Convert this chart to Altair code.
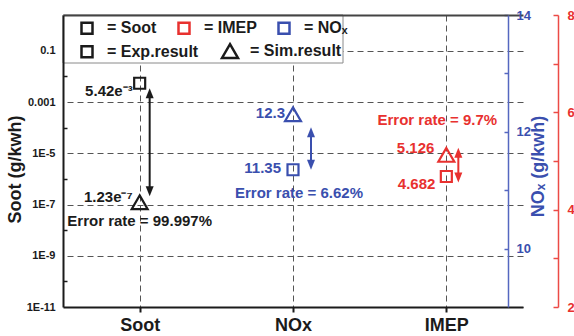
import altair as alt
import numpy as np
import pandas as pd

# ---- data -------------------------------------------------------------
categories = ["Soot", "NOx", "IMEP"]
exp_results = [5.42e-3, 11.35, 4.682]
sim_results = [1.23e-7, 12.3, 5.126]
error_rates = ["99.997%", "6.62%", "9.7%"]

legend_items = ["Soot", "IMEP", "NOx"]
result_kinds = ["Exp.result", "Sim.result"]

soot_major = [1e-1, 1e-3, 1e-5, 1e-7, 1e-9, 1e-11]
soot_minor = [1e-2, 1e-4, 1e-6, 1e-8, 1e-10]
nox_major = [10, 12, 14]
nox_minor = [11, 13]
imep_major = [2, 4, 6, 8]
imep_minor = [3, 5, 7]

soot_domain = [1e-11, 2.5]
nox_domain = [9, 14]
imep_domain = [2, 8]

# ---- style ------------------------------------------------------------
FONT = "Liberation Sans"
BLACK = "#1b1b1b"
RED = "#e8312f"
BLUE = "#3a4fae"
BLUE_AXIS = "#5567c0"
RED_AXIS = "#ec4a46"
GRID = "#555555"
item_colors = [BLACK, RED, BLUE]
TRIANGLE = "M0,-1.25L1.45,1.25L-1.45,1.25Z"
HEAD_UP = "M0,-1L0.8,1L-0.8,1Z"
HEAD_DOWN = "M0,1L0.8,-1L-0.8,-1Z"

W, H = 460, 292

SUP = str.maketrans("-0123456789", "⁻⁰¹²³⁴⁵⁶⁷⁸⁹")


def sci_label(v):
    e = int(np.floor(np.log10(v)))
    return f"{v / 10 ** e:.2f}e" + str(e).translate(SUP)


def plain_label(v):
    return str(v)


x_scale = alt.Scale(type="point", domain=categories, padding=0.5)


def xenc(axis=None):
    return alt.X("item:N", scale=x_scale, axis=axis)


color_enc = alt.Color(
    "item:N",
    scale=alt.Scale(domain=legend_items, range=item_colors),
    legend=alt.Legend(
        orient="none", legendX=16, legendY=5, direction="horizontal", title=None,
        symbolType="square", symbolSize=121, symbolStrokeWidth=2.5,
        labelFont=FONT, labelFontSize=16, labelFontWeight="bold", labelColor=BLACK,
        labelOffset=12, columnPadding=16, padding=0,
        labelExpr="datum.label == 'NOx' ? '= NOₓ' : '= ' + datum.label",
    ),
)
shape_enc = alt.Shape(
    "kind:N",
    scale=alt.Scale(domain=result_kinds, range=["square", TRIANGLE]),
    legend=alt.Legend(
        orient="none", legendX=16, legendY=28, direction="horizontal", title=None,
        symbolSize=121, symbolStrokeWidth=2.5, symbolStrokeColor=BLACK,
        symbolFillColor="transparent",
        labelFont=FONT, labelFontSize=16, labelFontWeight="bold", labelColor=BLACK,
        labelOffset=12, columnPadding=18, padding=0,
        labelExpr="'= ' + datum.label",
    ),
)

x_bottom = alt.Axis(
    orient="bottom", title=None, grid=True, gridDash=[6, 4], gridColor=GRID, gridWidth=1,
    domainColor=BLACK, domainWidth=2, tickColor=BLACK, tickWidth=2, tickSize=5,
    labelFont=FONT, labelFontSize=18, labelFontWeight="bold", labelColor=BLACK,
    labelPadding=4, labelAngle=0, zindex=0,
)
x_top = alt.Axis(
    orient="top", title=None, labels=False, ticks=False, grid=False,
    domainColor="#444444", domainWidth=2, zindex=1,
)


def build_group(i, scale, main_axis, aux_axis, fmt, color, arrow, exp_lab, sim_lab, err_lab,
                x_axes=(None, None)):
    item = categories[i]
    ev, sv = exp_results[i], sim_results[i]
    pts = pd.DataFrame({
        "item": [item, item],
        "kind": result_kinds,
        "value": [ev, sv],
        "label": [fmt(ev), fmt(sv)],
    })
    hi, lo = max(ev, sv), min(ev, sv)
    arr = pd.DataFrame({"item": [item], "hi": [hi], "lo": [lo]})
    err = pd.DataFrame({"item": [item], "value": [ev if err_lab["on"] == "exp" else sv],
                        "text": ["Error rate = " + error_rates[i]]})

    def yenc(field, axis=None):
        return alt.Y(f"{field}:Q", scale=scale, axis=axis)

    points = alt.Chart(pts).mark_point(
        filled=False, strokeWidth=2.2, size=121, opacity=1
    ).encode(x=xenc(x_axes[0]), y=yenc("value", main_axis), color=color_enc, shape=shape_enc)

    text_style = dict(font=FONT, fontSize=15, fontWeight="bold", color=color, baseline="middle")
    exp_text = alt.Chart(pts.iloc[[0]]).mark_text(
        align="right", dx=exp_lab[0], dy=exp_lab[1], **text_style
    ).encode(x=xenc(), y=yenc("value"), text="label:N")
    sim_text = alt.Chart(pts.iloc[[1]]).mark_text(
        align="right", dx=sim_lab[0], dy=sim_lab[1], **text_style
    ).encode(x=xenc(), y=yenc("value"), text="label:N")
    err_text = alt.Chart(err).mark_text(
        align="center", dx=err_lab["dx"], dy=err_lab["dy"], **text_style
    ).encode(x=xenc(), y=yenc("value"), text="text:N")

    dx, top_off, bot_off = arrow
    shaft = alt.Chart(arr).mark_rule(
        color=color, strokeWidth=2, xOffset=dx, yOffset=top_off + 4, y2Offset=bot_off - 4
    ).encode(x=xenc(x_axes[1]), y=yenc("hi", aux_axis), y2="lo:Q")
    head_up = alt.Chart(arr).mark_point(
        shape=HEAD_UP, filled=True, size=100, opacity=1, color=color,
        xOffset=dx, yOffset=top_off + 5,
    ).encode(x=xenc(), y=yenc("hi"))
    head_down = alt.Chart(arr).mark_point(
        shape=HEAD_DOWN, filled=True, size=100, opacity=1, color=color,
        xOffset=dx, yOffset=bot_off - 5,
    ).encode(x=xenc(), y=yenc("lo"))

    return alt.layer(points, shaft, head_up, head_down, exp_text, sim_text, err_text)


# ---- Soot (log scale, left) -------------------------------------------
soot_scale = alt.Scale(type="log", domain=soot_domain)
soot_axis = alt.Axis(
    orient="left", values=soot_major, grid=False, ticks=False,
    domainColor=BLACK, domainWidth=2, labelPadding=8,
    labelFont=FONT, labelFontSize=11, labelFontWeight="bold", labelColor=BLACK,
    labelExpr="datum.value >= 0.001 ? '' + datum.value : '1E' + round(log(datum.value) / LN10)",
    title="Soot (g/kwh)", titleFont=FONT, titleFontSize=18, titleFontWeight="bold",
    titleColor=BLACK, titleAngle=270, titleAlign="center", titleBaseline="middle",
    titleX=-48, titleY=154, zindex=1,
)
soot_grid = alt.Axis(
    orient="right", offset=-W, values=soot_major + soot_minor, title=None,
    labels=False, domain=False, ticks=True, tickSize=4, tickColor=BLACK, tickWidth=1.5,
    tickOpacity={"condition": {"test": "round(log(datum.value) / LN10) % 2 == 0", "value": 1}, "value": 0},
    grid=True, gridDash=[6, 4], gridColor=GRID, gridWidth=1,
    gridOpacity={"condition": {"test": "round(log(datum.value) / LN10) % 2 == 0", "value": 0}, "value": 1},
    zindex=0,
)
soot = build_group(
    0, soot_scale, soot_axis, soot_grid, sci_label, BLACK,
    arrow=(10, 5, -6), exp_lab=(-7, 8), sim_lab=(-7, -5),
    err_lab={"on": "sim", "dx": 0, "dy": 19}, x_axes=(x_bottom, x_top),
)

# ---- NOx (linear, blue axis) ------------------------------------------
nox_scale = alt.Scale(domain=nox_domain, nice=False, zero=False)
nox_axis = alt.Axis(
    orient="right", offset=-15, values=nox_major, grid=False, ticks=False,
    domainColor=BLUE_AXIS, domainWidth=1.5, labelPadding=8,
    labelFont=FONT, labelFontSize=13, labelFontWeight="bold", labelColor=BLUE,
    title="NOₓ (g/kwh)", titleFont=FONT, titleFontSize=18, titleFontWeight="bold",
    titleColor=BLUE, titleAngle=270, titleAlign="center", titleBaseline="middle",
    titleX=30, titleY=151, zindex=1,
)
nox_ticks = alt.Axis(
    orient="left", offset=-(W - 15), values=nox_major + nox_minor, title=None,
    labels=False, domain=False, grid=False, tickSize=4, tickColor=BLUE_AXIS, tickWidth=1.5,
)
nox = build_group(
    1, nox_scale, nox_axis, nox_ticks, plain_label, BLUE,
    arrow=(18, 13, 0), exp_lab=(-12, -2), sim_lab=(-8, -1),
    err_lab={"on": "exp", "dx": 6, "dy": 23},
)

# ---- IMEP (linear, red axis) ------------------------------------------
imep_scale = alt.Scale(domain=imep_domain, nice=False, zero=False)
imep_axis = alt.Axis(
    orient="right", offset=35, values=imep_major, grid=False, ticks=False,
    domainColor=RED_AXIS, domainWidth=1.5, labelPadding=9,
    labelFont=FONT, labelFontSize=13, labelFontWeight="bold", labelColor=RED,
    title=None, zindex=1,
)
imep_ticks = alt.Axis(
    orient="left", offset=-(W + 35), values=imep_major + imep_minor, title=None,
    labels=False, domain=False, grid=False, tickSize=5, tickColor=RED_AXIS, tickWidth=1.5,
)
imep = build_group(
    2, imep_scale, imep_axis, imep_ticks, plain_label, RED,
    arrow=(12, -7, 6), exp_lab=(-11, 7.5), sim_lab=(-12, -7),
    err_lab={"on": "sim", "dx": -9, "dy": -35},
)

# white legend panel with a thin border
legend_box = alt.Chart(pd.DataFrame({"item": ["box"]})).mark_rect(
    fill="white", stroke="#8a8a8a", strokeWidth=1
).encode(x=alt.value(0), x2=alt.value(280), y=alt.value(0), y2=alt.value(48))

chart = (
    alt.layer(legend_box, soot, nox, imep)
    .resolve_scale(y="independent")
    .properties(
        width=W, height=H,
        padding={"left": 63, "top": 15, "right": 51, "bottom": 29},
        autosize=alt.AutoSizeParams(type="none"),
        background="white",
    )
    .configure_view(stroke=None)
)

chart.save("out.html", embed_options={"renderer": "svg", "actions": False})
